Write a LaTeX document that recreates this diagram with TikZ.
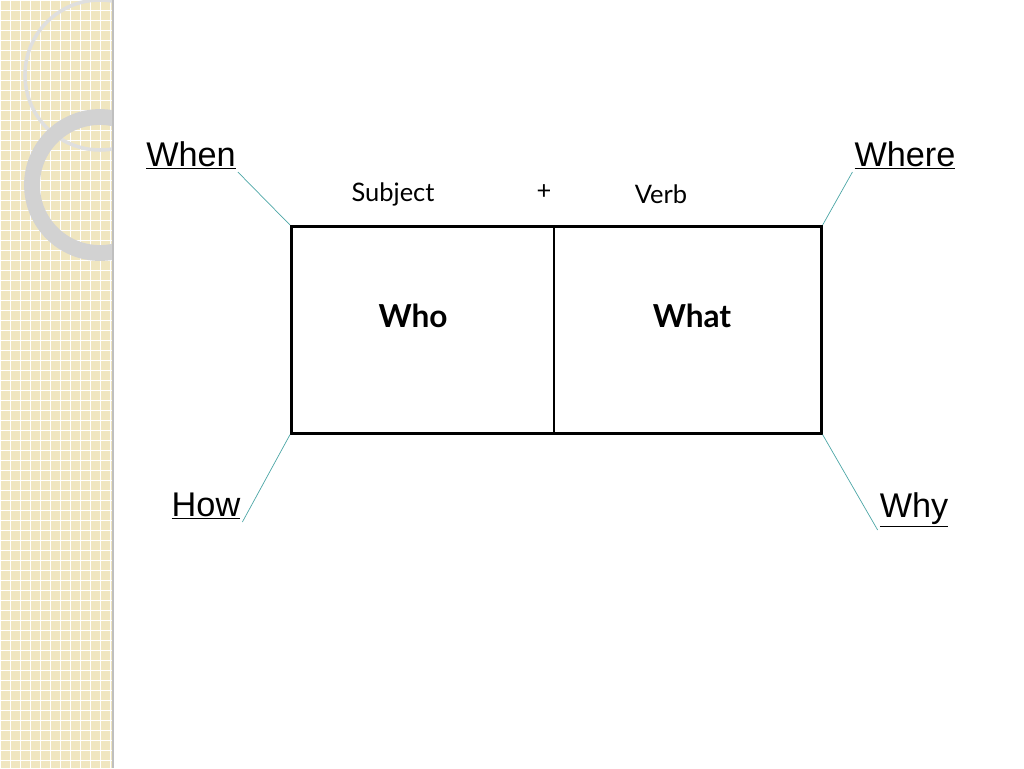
\documentclass[tikz,border=0pt]{standalone}
\usepackage{fontspec}
\setmainfont{Liberation Sans}
\newfontfamily\gill{Lato}
\begin{document}
\begin{tikzpicture}[x=0.02cm,y=-0.02cm]
	\tikzstyle{corner}=[font=\fontsize{19.5}{22}\selectfont,inner sep=1pt]
	\tikzstyle{part}=[font=\gill\fontsize{14.5}{17}\selectfont]
	\tikzstyle{word}=[font=\gill\bfseries\fontsize{18}{21}\selectfont]
	\tikzstyle{leg}=[draw=teal!70,thin]
	\useasboundingbox (0,0) rectangle (1024,768);
	% decorative strip
	\fill[fill={rgb,255:red,240;green,230;blue,192}] (0,0) rectangle (113,768);
	\foreach \i in {0,10,...,110} \draw[white,line width=0.5pt] (\i,0) -- (\i,768);
	\foreach \j in {0,10,...,760} \draw[white,line width=0.5pt] (0,\j) -- (113,\j);
	\begin{scope}
		\clip (0,0) rectangle (113,768);
		\draw[gray!25,line width=2pt] (100,75) circle (75);
		\draw[gray!35,line width=9pt] (100,185) circle (68);
	\end{scope}
	\draw[gray!50,line width=1pt] (113,0) -- (113,768);
	% diagram
	\node[draw,line width=1.5pt,minimum width=530*0.02cm,minimum height=207*0.02cm,anchor=north west] (box) at (290,225) {};
	\draw[line width=1.5pt] (554,225) -- (554,432);
	\node[word] (who) at (413,316) {Who};
	\node[word] (what) at (692,316) {What};
	\node[part] (subj) at (393,194) {Subject};
	\node[part] (plus) at (544,192) {+};
	\node[part] (verb) at (661,194) {Verb};
	\node[corner,anchor=south] (when) at (191,172) {\underline{When}};
	\node[corner,anchor=south] (where) at (905,172) {\underline{Where}};
	\node[corner,anchor=south] (how) at (206,522) {\underline{How}};
	\node[corner,anchor=south] (why) at (914,530) {\underline{Why}};
	\draw[leg] (when.south east) -- (box.north west);
	\draw[leg] (where.south west) -- (box.north east);
	\draw[leg] (how.south east) -- (box.south west);
	\draw[leg] (why.south west) -- (box.south east);
\end{tikzpicture}
\end{document}
